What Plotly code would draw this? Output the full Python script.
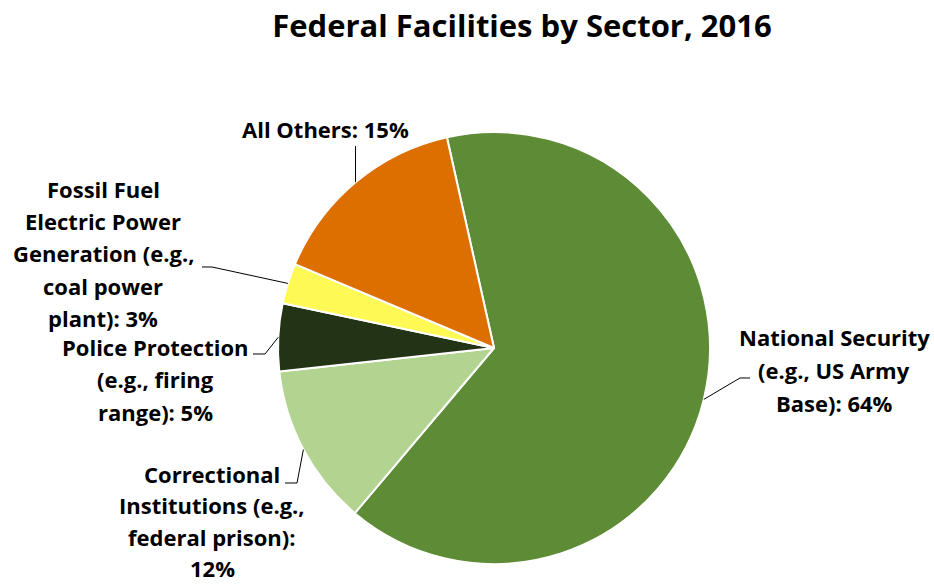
import math
import plotly.graph_objects as go

W, H = 934, 584

# Sector shares (percent of federal facilities, 2016)
categories = [
    "National Security",
    "Correctional Institutions",
    "Police Protection",
    "Fossil Fuel Electric Power Generation",
    "All Others",
]
values = [64, 12, 5, 3, 15]
colors = ["#5E8B35", "#B2D490", "#223316", "#FFF955", "#DD6E00"]

# Wrapped label text for each slice; {v} is filled with the slice value
label_lines = [
    ["National Security", "(e.g., US Army", "Base): {v}%"],
    ["Correctional", "Institutions (e.g.,", "federal prison):", "{v}%"],
    ["Police Protection", "(e.g., firing", "range): {v}%"],
    ["Fossil Fuel", "Electric Power", "Generation (e.g.,", "coal power", "plant): {v}%"],
    ["All Others: {v}%"],
]

# Label placement in pixels: text centre x, first line y, line spacing,
# and the leader-line points running from the text towards the slice
label_pos = [
    dict(cx=834, y0=337, gap=33, path=[(750, 378), (740, 378)]),
    dict(cx=212, y0=474, gap=31.3, path=[(285, 483), (297, 483)]),
    dict(cx=155, y0=347, gap=32.3, path=[(253, 354), (265, 354)]),
    dict(cx=103, y0=189, gap=32.2, path=[(202, 267), (212, 267)]),
    dict(cx=325, y0=129, gap=0, path=[(None, 146)]),
]
FONT = "Open Sans"
ROTATION = -12.6

# Pie placement (paper coordinates)
dom_x = [278 / W, 710 / W]
dom_y = [1 - 564 / H, 1 - 132 / H]
pcx = (dom_x[0] + dom_x[1]) / 2 * W
pcy = (1 - (dom_y[0] + dom_y[1]) / 2) * H
prad = min((dom_x[1] - dom_x[0]) * W, (dom_y[1] - dom_y[0]) * H) / 2

fig = go.Figure(
    go.Pie(
        labels=categories,
        values=values,
        sort=False,
        direction="clockwise",
        rotation=ROTATION,
        marker=dict(colors=colors, line=dict(color="white", width=2)),
        textinfo="none",
        hoverinfo="label+percent",
        domain=dict(x=dom_x, y=dom_y),
        showlegend=False,
    )
)


def px(x):
    return x / W


def py(y):
    return 1 - y / H


annotations = []
shapes = []
total = sum(values)
start = ROTATION
for v, lines, pos in zip(values, label_lines, label_pos):
    span = v / total * 360
    mid = math.radians(start + span / 2)
    start += span
    ax = pcx + prad * math.sin(mid)
    ay = pcy - prad * math.cos(mid)

    for i, ln in enumerate(lines):
        annotations.append(
            dict(
                x=px(pos["cx"]), y=py(pos["y0"] + i * pos["gap"]),
                xref="paper", yref="paper",
                text="<b>" + ln.format(v=v) + "</b>",
                showarrow=False, xanchor="center", yanchor="middle",
                borderpad=0,
                font=dict(family=FONT, size=22, color="black"),
            )
        )

    pts = [((ax if x is None else x), y) for x, y in pos["path"]] + [(ax, ay)]
    d = "M " + " L ".join(f"{px(x):.5f},{py(y):.5f}" for x, y in pts)
    shapes.append(
        dict(type="path", path=d, xref="paper", yref="paper",
             line=dict(color="black", width=1))
    )

fig.update_layout(
    width=W,
    height=H,
    margin=dict(l=0, r=0, t=0, b=0),
    paper_bgcolor="white",
    plot_bgcolor="white",
    title=dict(
        text="<b>Federal Facilities by Sector, 2016</b>",
        x=522 / W, xanchor="center",
        y=1 - 26 / H, yanchor="middle", yref="container",
        font=dict(family=FONT, size=31, color="black"),
    ),
    annotations=annotations,
    shapes=shapes,
)

fig.write_html("out.html")
